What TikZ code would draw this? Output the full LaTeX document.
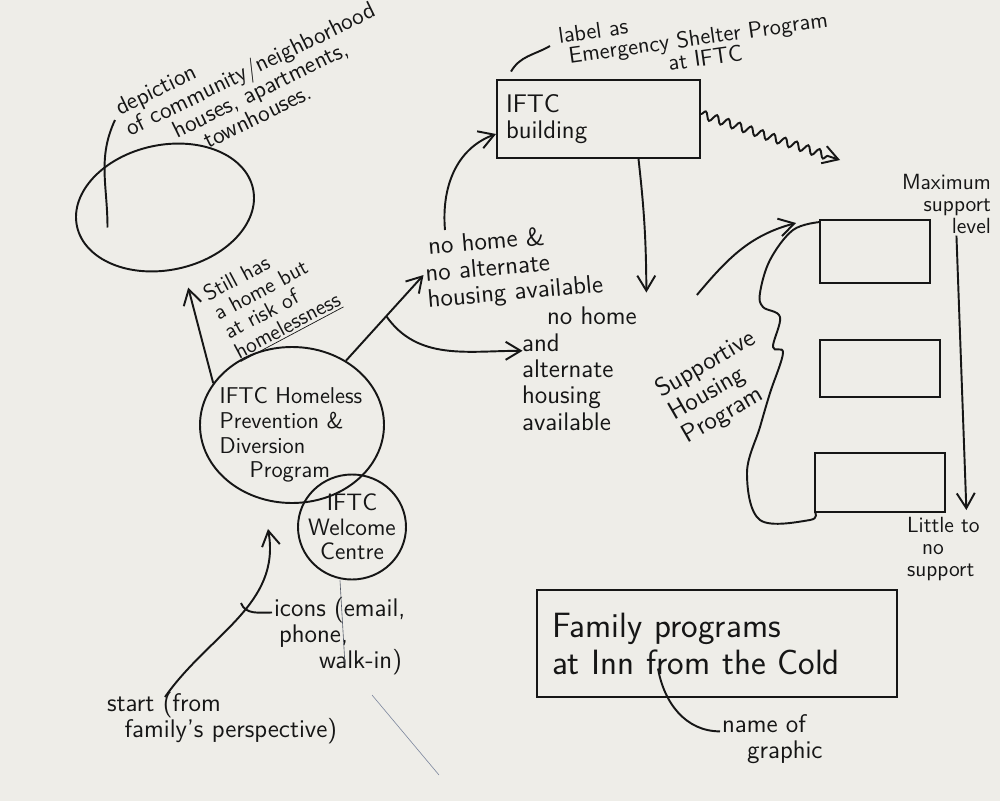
\documentclass[tikz,border=0pt]{standalone}
\usepackage{xcolor}
\usepackage{tikz}
\usetikzlibrary{arrows.meta, positioning, shapes.geometric, calc, decorations.pathmorphing}
\definecolor{Paper}{HTML}{EEEDE8}
\definecolor{Ink}{HTML}{161616}
\definecolor{Pencil}{HTML}{7D879E}

\begin{document}
\begin{tikzpicture}[
  font=\sffamily,
  hand/.style={font=\sffamily\fontsize{14.5}{15}\selectfont, text=Ink, align=left, inner sep=1pt},
  handsm/.style={hand, font=\sffamily\fontsize{12.5}{12.5}\selectfont},
  handbig/.style={hand, font=\sffamily\fontsize{20}{21}\selectfont},
  ring/.style={ellipse, draw=Ink, line width=1.1pt, inner sep=0pt},
  plate/.style={rectangle, draw=Ink, line width=1.1pt},
  ink/.style={draw=Ink, line width=1.1pt},
  arrow/.style={ink, -{Straight Barb[length=3mm, width=3.6mm]}}
]
% paper
\fill[Paper] (0,0) rectangle (20,-16.02);
\useasboundingbox (0,0) rectangle (20,-16.02);

% neighbourhood
\node[ring, minimum width=3.6cm, minimum height=2.5cm, rotate=12] (hood) at (3.3,-4.15) {};
\node[hand, font=\sffamily\fontsize{13.5}{13}\selectfont, rotate=26, anchor=north west] (depict) at (2.2,-2.0) {depiction\\of community/neighborhood\\\hspace{0.84cm}houses, apartments,\\\hspace{1.3cm}townhouses.};
\coordinate (hoodpt) at ($(hood.center)+(-1.15,-0.4)$);
\draw[ink] (hoodpt) to[out=90,in=-115] ([xshift=1mm,yshift=-4mm]depict.north west);

% emergency shelter
\node[plate, hand, minimum width=4.06cm, minimum height=1.56cm, text width=3.7cm] (bldg) at (11.97,-2.38) {IFTC\\building};
\node[hand, font=\sffamily\fontsize{13}{12}\selectfont, rotate=8, anchor=north west] (lbl) at (11.1,-0.52) {label as\\\hspace{0.15cm}Emergency Shelter Program\\\hspace{2.1cm}at IFTC};
\draw[ink] ([xshift=3mm,yshift=1.5mm]bldg.north west) to[out=60,in=210] ([xshift=-1mm,yshift=-4mm]lbl.north west);
\coordinate (scrib) at (16.8,-3.2);
\draw[arrow, decorate, decoration={snake, amplitude=0.8mm, segment length=2.4mm, post length=2mm}] ([yshift=1mm]bldg.east) -- (scrib);

% housing outcomes
\node[hand, rotate=5, anchor=north west] (nohome) at (8.4,-4.7) {\hspace{0.1cm}no home \&\\no alternate\\housing available};
\node[hand, anchor=north west] (alt) at (10.4,-6.1) {\hspace{0.5cm}no home\\and\\alternate\\housing\\available};
\draw[arrow] ([xshift=0.5cm,yshift=0.1cm]nohome.north west) to[out=95,in=200] ([yshift=-0.3cm]bldg.west);
\draw[arrow] ([xshift=0.8cm]bldg.south) to[bend left=3] ([xshift=0.15cm,yshift=0.25cm]alt.north east);

% prevention and welcome
\node[ring, minimum width=3.68cm, minimum height=3.12cm] (prev) at (5.84,-8.5) {};
\node[hand, font=\sffamily\fontsize{13}{14}\selectfont] (prevtext) at ([xshift=-0.02cm,yshift=-0.2cm]prev.center) {IFTC Homeless\\Prevention \&\\Diversion\\\hspace{0.6cm}Program};
\node[ring, minimum width=2.16cm, minimum height=2.1cm] (welc) at (7.04,-10.54) {};
\node[hand, font=\sffamily\fontsize{13.5}{14}\selectfont, align=center] (welctext) at (welc.center) {IFTC\\Welcome\\Centre};
\node[handsm, rotate=28] (still) at (5.45,-5.95) {Still has\\a home but\\at risk of\\\underline{homelessness}};
\draw[arrow] (prev.152) -- ([xshift=0.2cm,yshift=-0.36cm]hood.south);
\draw[arrow] (prev.50) -- (nohome.west);
\coordinate (fork) at ($(prev.50)!0.52!(nohome.west)$);
\draw[arrow] (fork) to[out=-55,in=180] ([xshift=0.05cm,yshift=0.36cm]alt.west);

% entry
\node[hand, anchor=north west] (start) at (2.1,-13.8) {start (from\\\hspace{0.35cm}family's perspective)};
\draw[arrow] ([xshift=1.2cm,yshift=-0.14cm]start.north west) to[out=55,in=-80] ([xshift=-0.48cm,yshift=-0.5cm]prev.south);
\node[hand, anchor=north west] (icons) at (5.44,-11.9) {icons (email,\\\hspace{0.1cm}phone,\\\hspace{0.9cm}walk-in)};
\coordinate (hook) at (4.82,-12.06);
\draw[ink] ([yshift=-0.35cm]icons.north west) to[out=180,in=-70] (hook);
\coordinate (strayA) at (6.9,-13.3);
\coordinate (strayB) at (7.44,-13.9);
\coordinate (strayC) at (8.78,-15.5);
\draw[Pencil!60!Ink, line width=0.35pt] ([xshift=-0.24cm]welc.south) -- (strayA);
\draw[Pencil, line width=0.35pt] (strayB) -- (strayC);

% supportive housing
\node[plate, minimum width=2.2cm, minimum height=1.26cm] (tier1) at (17.5,-5.03) {};
\node[plate, minimum width=2.4cm, minimum height=1.14cm] (tier2) at (17.6,-7.37) {};
\node[plate, minimum width=2.6cm, minimum height=1.18cm] (tier3) at (17.6,-9.65) {};
\draw[ink] plot[smooth, tension=0.6] coordinates {(16.4,-4.44) (15.86,-4.6) (15.4,-5.2) (15.2,-5.86) (15.26,-6.14) (15.6,-6.34) (15.46,-6.94) (15.66,-7.06) (15.4,-7.86) (15.2,-8.54) (14.94,-9.46) (15.2,-10.4) (16.2,-10.4) (16.3,-10.24)};
\coordinate (shtop) at (15.92,-4.46);
\draw[arrow] ([xshift=1.16cm,yshift=0.2cm]alt.north east) to[out=50,in=195] (shtop);
\node[hand, rotate=30] (sup) at (14.38,-7.75) {Supportive\\Housing\\Program};
\node[handsm, align=right, anchor=north east] (maxi) at (19.86,-3.44) {Maximum\\support\\level};
\node[handsm, anchor=north west] (little) at (18.1,-10.3) {Little to\\\hspace{0.3cm}no\\support};
\draw[arrow] ([xshift=0.2cm]maxi.south) -- ([xshift=0.46cm,yshift=0.1cm]little.north);

% title
\node[plate, handbig, minimum width=7.2cm, minimum height=2.14cm, text width=6.6cm] (fam) at (14.34,-12.87) {Family programs\\at Inn from the Cold};
\node[hand, anchor=north west] (gname) at (14.4,-14.24) {name of\\\hspace{0.5cm}graphic};
\draw[ink] ([xshift=-1.18cm,yshift=-0.5cm]fam.center) to[out=-80,in=180] ([yshift=0.15cm]gname.west);
\end{tikzpicture}
\end{document}
